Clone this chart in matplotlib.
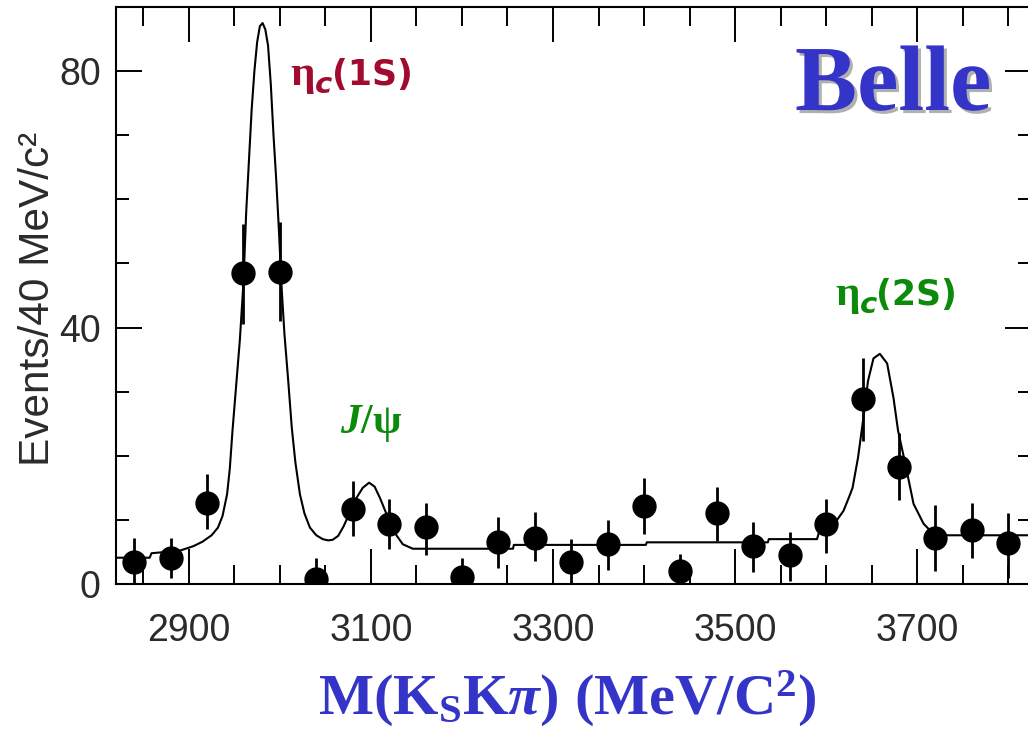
import matplotlib
matplotlib.use("Agg")
import matplotlib.pyplot as plt
from matplotlib.ticker import MultipleLocator, FixedLocator
import matplotlib.patheffects as pe

# K_S K pi invariant mass spectrum, 40 MeV bins
MASS = [2840, 2880, 2920, 2960, 3000, 3040, 3080, 3120, 3160, 3200,
        3240, 3280, 3320, 3360, 3400, 3440, 3480, 3520, 3560, 3600,
        3640, 3680, 3720, 3760, 3800]
EVENTS = [3.4, 4.1, 12.7, 48.5, 48.6, 0.8, 11.7, 9.4, 8.9, 1.1,
          6.6, 7.2, 3.4, 6.2, 12.2, 2.0, 11.1, 6.0, 4.6, 9.4,
          28.9, 18.2, 7.2, 8.4, 6.4]
ERR_UP = [3.8, 3.0, 4.5, 7.6, 7.8, 3.3, 4.4, 3.9, 3.8, 3.0,
          3.8, 4.1, 3.6, 3.8, 4.4, 2.7, 4.1, 3.6, 3.5, 3.9,
          6.3, 5.4, 5.1, 4.3, 4.6]
ERR_DN = [3.4, 3.2, 4.1, 8.0, 7.6, 0.8, 4.2, 3.9, 4.3, 1.1,
          4.1, 3.6, 3.4, 4.0, 4.4, 2.0, 4.4, 4.2, 4.1, 4.6,
          6.6, 5.1, 5.2, 4.3, 5.5]

# Fit result (signal peaks + background)
FIT_MASS = [2820, 2857, 2859, 2890, 2905, 2915, 2925, 2932, 2937, 2942,
            2945, 2948, 2952, 2956, 2960, 2963, 2966, 2969, 2972, 2975,
            2978, 2981, 2984, 2987, 2990, 2993, 2996, 2999, 3002, 3005,
            3009, 3013, 3017, 3022, 3027, 3033, 3040, 3047, 3053, 3058,
            3064, 3070, 3077, 3084, 3091, 3098, 3104, 3110, 3116, 3122,
            3128, 3135, 3146, 3256, 3257, 3402, 3403, 3536, 3537, 3590,
            3592, 3604, 3612, 3619, 3625, 3629, 3635, 3641, 3646, 3652,
            3659, 3667, 3674, 3679, 3687, 3696, 3707, 3718, 3725, 3830]
FIT_EVENTS = [4.1, 4.1, 4.8, 5.2, 5.9, 6.6, 7.6, 8.8, 10.6, 14.0,
              18.0, 24.0, 31.0, 38.0, 47.0, 58.0, 66.0, 74.0, 80.0, 84.5,
              87.0, 87.5, 86.5, 84.0, 78.0, 70.0, 63.0, 55.0, 46.0, 39.0,
              32.0, 24.5, 19.0, 14.0, 11.0, 8.8, 7.6, 7.0, 6.8, 6.9,
              7.5, 9.0, 11.2, 13.4, 15.0, 15.8, 15.2, 13.4, 11.3, 9.3,
              7.6, 6.2, 5.5, 5.5, 6.1, 6.1, 6.5, 6.5, 7.0, 7.0,
              8.0, 8.8, 10.0, 11.4, 13.5, 15.0, 19.7, 26.0, 31.7, 35.2,
              35.9, 34.4, 29.0, 23.9, 18.7, 12.5, 9.4, 7.8, 7.6, 7.6]

X_MAJOR = [2900, 3100, 3300, 3500, 3700]
Y_MAJOR = [0, 40, 80]

BLUE = "#3434c8"
GREEN = "#0b8a0b"
DARKRED = "#a30a30"
INK = "#2b2b2b"

plt.rcParams["mathtext.fontset"] = "custom"
plt.rcParams["mathtext.rm"] = "Liberation Serif:bold"
plt.rcParams["mathtext.it"] = "Liberation Serif:italic:bold"
plt.rcParams["mathtext.bf"] = "Liberation Serif:bold"

fig = plt.figure(figsize=(10.28, 7.29), dpi=100)
W, H = 1028, 729
ax = fig.add_axes([116 / W, 145 / H, (1031 - 116) / W, (722 - 145) / H])

ax.plot(FIT_MASS, FIT_EVENTS, color="black", lw=1.5, zorder=2)
ax.errorbar(MASS, EVENTS, yerr=[ERR_DN, ERR_UP], fmt="o", color="black",
            ms=16.5, elinewidth=2.0, capsize=0, zorder=3)

ax.set_xlim(2820, 3825)
ax.set_ylim(0, 90)

ax.xaxis.set_major_locator(FixedLocator(X_MAJOR))
ax.xaxis.set_minor_locator(MultipleLocator(50))
ax.yaxis.set_major_locator(FixedLocator(Y_MAJOR))
ax.yaxis.set_minor_locator(MultipleLocator(10))

ax.tick_params(axis="both", which="both", direction="in",
               top=True, right=True, width=1.4, colors="black",
               labelcolor=INK)
ax.tick_params(axis="x", which="major", length=25, pad=21)
ax.tick_params(axis="x", which="minor", length=14)
ax.tick_params(axis="y", which="major", length=19, pad=11)
ax.tick_params(axis="y", which="minor", length=9.5)

for lab in ax.get_xticklabels() + ax.get_yticklabels():
    lab.set_fontfamily("Liberation Sans")
    lab.set_fontsize(27)

for sp in ax.spines.values():
    sp.set_linewidth(1.5)

# axis titles
fig.text(38 / W, 1 - 299 / H, "Events/40 MeV/c\u00b2", rotation=90,
         ha="center", va="center", fontsize=30.5,
         fontfamily="Liberation Sans", color=INK)
fig.text(567 / W, 1 - 715 / H,
         r"$\mathrm{M(K_{S}K}\pi\mathrm{)\ (MeV/C^{2})}$",
         ha="center", va="baseline", fontsize=42, color=BLUE)

# experiment tag with drop shadow
fig.text(795 / W, 1 - 110 / H, "Belle", ha="left", va="baseline",
         fontsize=67, fontfamily="Liberation Serif", fontweight="bold",
         color=BLUE,
         path_effects=[pe.withSimplePatchShadow(offset=(2.2, -2.2),
                                                shadow_rgbFace="#b0b0b0",
                                                alpha=1.0)])


def eta_c_label(x_eta, x_c, x_paren, baseline, state, color):
    """eta_c(nS): large eta, lowered italic c, bold sans state tag."""
    fig.text(x_eta / W, 1 - baseline / H, "\u03b7", ha="left",
             va="baseline", fontsize=31, fontfamily="Liberation Serif",
             fontweight="bold", color=color)
    fig.text(x_c / W, 1 - (baseline + 8) / H, "c", ha="left",
             va="baseline", fontsize=21, fontfamily="DejaVu Sans",
             fontweight="bold", fontstyle="italic", color=color)
    fig.text(x_paren / W, 1 - baseline / H, state, ha="left",
             va="baseline", fontsize=25, fontfamily="DejaVu Sans",
             fontweight="bold", color=color)


eta_c_label(290, 315, 332, 85, "(1S)", DARKRED)
eta_c_label(835, 860, 876, 305, "(2S)", GREEN)

fig.text(340 / W, 1 - 433 / H, r"$J/\mathrm{\psi}$",
         ha="left", va="baseline", fontsize=30, color=GREEN)

fig.savefig("out.png", dpi=100)
